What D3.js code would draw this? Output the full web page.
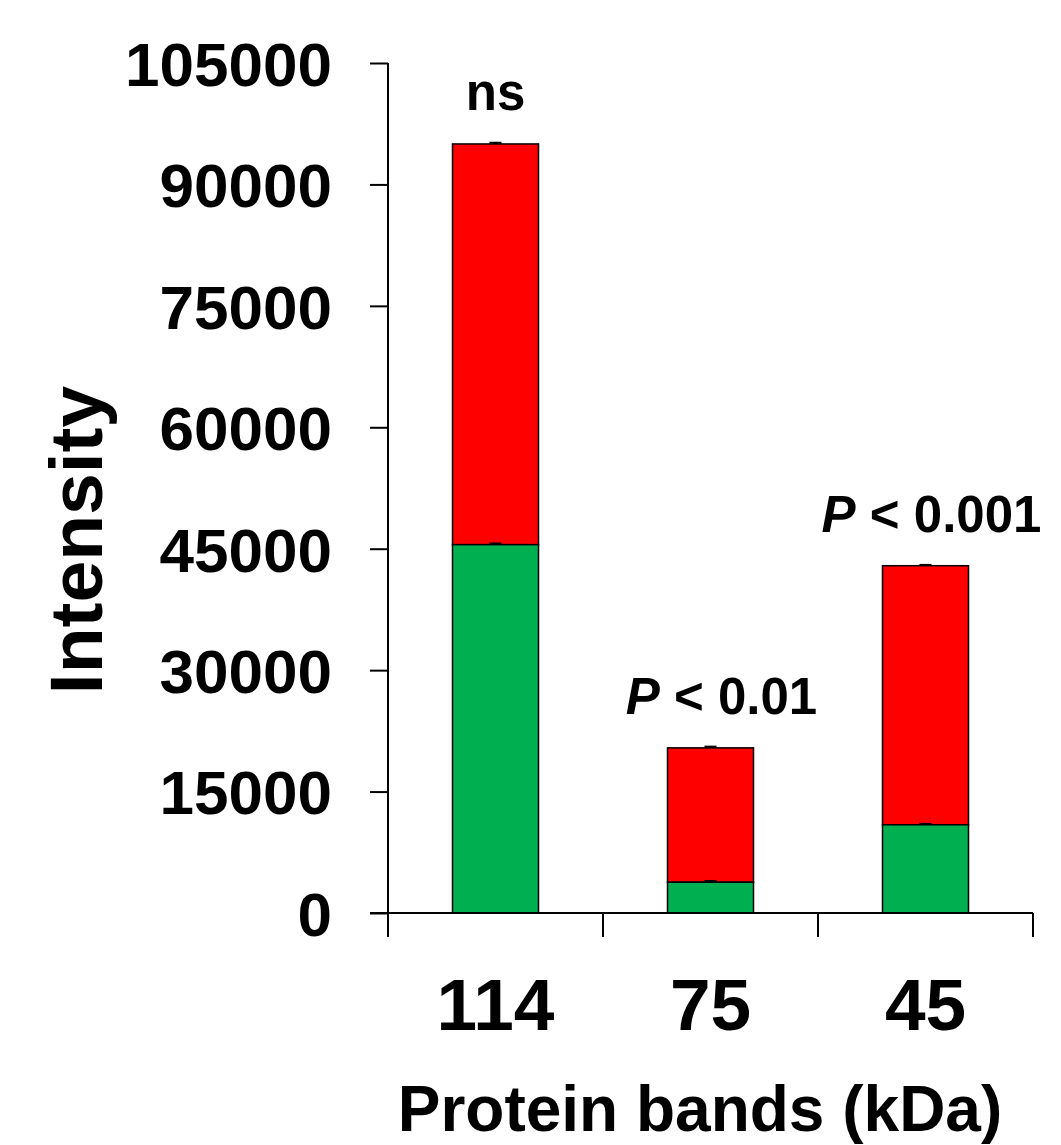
<!DOCTYPE html>
<html><head><meta charset="utf-8">
<script src="https://cdn.jsdelivr.net/npm/d3@7"></script>
<style>body{margin:0;background:#fff}svg{display:block}text{font-family:"Liberation Sans",Arial,sans-serif;font-weight:bold;fill:#000}</style>
</head><body>
<script>
const categories = ["114", "75", "45"];
const greenValues = [45500, 3800, 10900];
const redValues = [49500, 16600, 32000];
const errGreen = [150, 150, 100];
const errTotal = [150, 150, 100];
const annotations = ["ns", "P < 0.01", "P < 0.001"];
const yTicks = [0, 15000, 30000, 45000, 60000, 75000, 90000, 105000];
const colors = {green: "#00B050", red: "#FF0000"};

const W = 1061, H = 1145;
const svg = d3.select("body").append("svg").attr("width", W).attr("height", H);

const x = d3.scaleBand().domain(categories).range([388, 1033]).paddingInner(0).paddingOuter(0);
const y = d3.scaleLinear().domain([0, 105000]).range([913, 63]);
const bw = 86;
const annDx = [0, 11, 6];

// bars
const g = svg.append("g");
categories.forEach((c, i) => {
  const cx = x(c) + x.bandwidth() / 2;
  const g0 = greenValues[i], tot = greenValues[i] + redValues[i];
  g.append("rect").attr("x", cx - bw / 2).attr("y", y(tot)).attr("width", bw).attr("height", y(g0) - y(tot))
    .attr("fill", colors.red).attr("stroke", "#000").attr("stroke-width", 1.5);
  g.append("rect").attr("x", cx - bw / 2).attr("y", y(g0)).attr("width", bw).attr("height", y(0) - y(g0))
    .attr("fill", colors.green).attr("stroke", "#000").attr("stroke-width", 1.5);
  // tiny error bars
  [[g0, errGreen[i]], [tot, errTotal[i]]].forEach(([v, e]) => {
    g.append("line").attr("x1", cx).attr("x2", cx).attr("y1", y(v + e)).attr("y2", y(v)).attr("stroke", "#000").attr("stroke-width", 1.5);
    g.append("line").attr("x1", cx - 6).attr("x2", cx + 6).attr("y1", y(v + e)).attr("y2", y(v + e)).attr("stroke", "#000").attr("stroke-width", 2);
  });
  // annotation
  const t = svg.append("text").attr("x", cx + annDx[i]).attr("y", y(tot) - 34)
    .attr("text-anchor", "middle").style("font-size", "51px");
  if (annotations[i].startsWith("P")) {
    t.append("tspan").style("font-style", "italic").text("P");
    t.append("tspan").text(annotations[i].slice(1));
  } else {
    t.text(annotations[i]);
  }
});

// y axis
const yAxis = d3.axisLeft(y).tickValues(yTicks).tickSize(18).tickPadding(38).tickFormat(d3.format("d"));
const ya = svg.append("g").attr("transform", "translate(388,0)").call(yAxis);
ya.select(".domain").attr("stroke", "#000").attr("stroke-width", 2).attr("d", "M0,63V913");
ya.selectAll(".tick line").attr("stroke", "#000").attr("stroke-width", 2);
ya.selectAll(".tick text").style("font-size", "62px").attr("font-family", null).attr("dy", "0.36em");

// x axis
const xAxis = d3.axisBottom(x).tickSize(0).tickPadding(0);
const xa = svg.append("g").attr("transform", "translate(0,913)").call(xAxis);
xa.select(".domain").attr("stroke", "#000").attr("stroke-width", 2).attr("d", "M370,0H1033");
xa.selectAll(".tick text").style("font-size", "73px").attr("font-family", null).attr("y", 117).attr("dy", 0);
// x boundary ticks
const bounds = [388, x("75"), x("45"), 1033];
xa.selectAll(".bt").data(bounds).enter().append("line").attr("class", "bt")
  .attr("x1", d => d).attr("x2", d => d).attr("y1", 0).attr("y2", 24).attr("stroke", "#000").attr("stroke-width", 2);

// axis titles
svg.append("text").attr("x", 700).attr("y", 1131).attr("text-anchor", "middle").style("font-size", "64px").text("Protein bands (kDa)");
svg.append("text").attr("transform", "translate(102,540) rotate(-90)").attr("text-anchor", "middle").style("font-size", "75px").text("Intensity");
</script>
</body></html>
